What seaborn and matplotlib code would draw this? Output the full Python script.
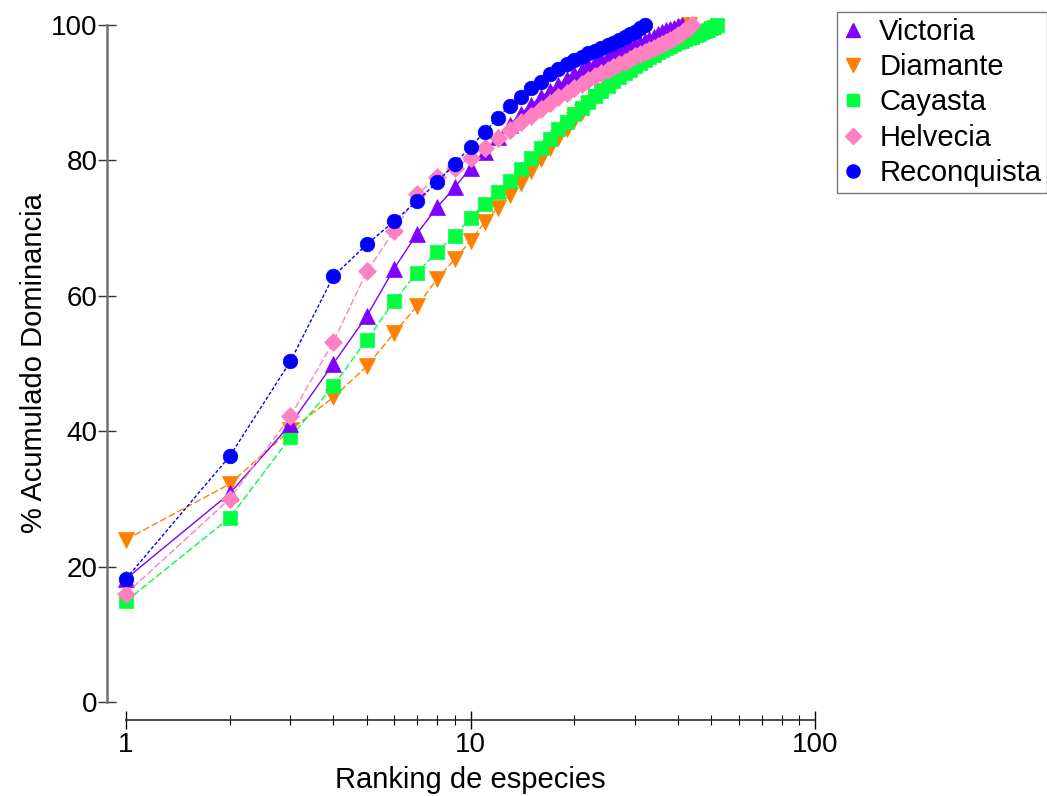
import numpy as np
import pandas as pd
import seaborn as sns
import matplotlib
matplotlib.use("Agg")
import matplotlib.pyplot as plt
from matplotlib.lines import Line2D
from matplotlib.ticker import LogLocator, NullFormatter, FixedLocator, FixedFormatter

# Cumulative % dominance by species rank (k-dominance curves)
victoria = [18.2, 30.8, 41.0, 50.0, 57.0, 64.0, 69.2, 73.1, 76.0, 78.9,
            81.3, 83.4, 85.3, 86.9, 88.2, 89.3, 90.3, 91.2, 92.0, 92.7,
            93.3, 93.9, 94.4, 94.9, 95.3, 95.7, 96.1, 96.5, 96.8, 97.1,
            97.4, 97.7, 98.0, 98.3, 98.6, 98.9, 99.2, 99.4, 99.6, 99.8, 100.0]
diamante = [24.0, 32.2, 40.2, 45.0, 49.6, 54.5, 58.5, 62.5, 65.4, 68.1,
            70.9, 73.0, 74.9, 76.7, 78.5, 80.2, 81.8, 83.3, 84.7, 86.0,
            87.2, 88.3, 89.3, 90.2, 91.0, 91.8, 92.5, 93.2, 93.8, 94.4,
            95.0, 95.5, 96.0, 96.5, 96.9, 97.3, 97.7, 98.1, 98.5, 98.9,
            99.3, 99.7, 100.0]
cayasta = [14.9, 27.2, 39.1, 46.7, 53.5, 59.2, 63.4, 66.5, 68.9, 71.5,
           73.6, 75.4, 77.0, 78.8, 80.4, 81.8, 83.2, 84.6, 85.7, 86.8,
           87.8, 88.7, 89.5, 90.3, 91.0, 91.7, 92.3, 92.9, 93.4, 93.9,
           94.4, 94.8, 95.2, 95.6, 96.0, 96.3, 96.6, 96.9, 97.2, 97.5,
           97.7, 97.9, 98.1, 98.3, 98.5, 98.7, 98.9, 99.1, 99.3, 99.5,
           99.7, 100.0]
helvecia = [16.0, 30.0, 42.2, 53.2, 63.6, 69.6, 75.0, 77.5, 78.9, 80.4,
            81.8, 83.3, 84.5, 85.6, 86.6, 87.6, 88.5, 89.3, 90.0, 90.7,
            91.3, 91.9, 92.4, 92.9, 93.4, 93.8, 94.2, 94.6, 95.0, 95.4,
            95.7, 96.0, 96.3, 96.6, 96.9, 97.2, 97.5, 97.8, 98.1, 98.5,
            98.8, 99.2, 99.6, 100.0]
reconquista = [18.2, 36.3, 50.3, 62.9, 67.6, 71.0, 74.0, 76.8, 79.5, 82.0,
               84.2, 86.3, 88.1, 89.4, 90.7, 91.6, 92.7, 93.5, 94.2, 94.8,
               95.3, 95.8, 96.2, 96.6, 97.0, 97.4, 97.8, 98.2, 98.6, 99.0,
               99.5, 100.0]

sites = ["Victoria", "Diamante", "Cayasta", "Helvecia", "Reconquista"]
series = [victoria, diamante, cayasta, helvecia, reconquista]
colors = {"Victoria": "#8000FF", "Diamante": "#FF8000", "Cayasta": "#00FF40",
          "Helvecia": "#FF80C0", "Reconquista": "#0000FF"}
markers = {"Victoria": "^", "Diamante": "v", "Cayasta": "s",
           "Helvecia": "D", "Reconquista": "o"}
msize = {"Victoria": 11.5, "Diamante": 11.5, "Cayasta": 10,
         "Helvecia": 9.5, "Reconquista": 10.5}
dashes = {"Victoria": (None, None), "Diamante": (5, 2), "Cayasta": (5, 2),
          "Helvecia": (5, 2), "Reconquista": (2.5, 1.5)}
zorders = {"Diamante": 3, "Cayasta": 4, "Victoria": 5, "Helvecia": 6, "Reconquista": 7}

df = pd.concat([pd.DataFrame({"Ranking": np.arange(1, len(v) + 1),
                              "Dominancia": v, "Sitio": s})
                for s, v in zip(sites, series)], ignore_index=True)

sns.set_theme(style="white")
plt.rcParams["font.family"] = ["Liberation Sans", "DejaVu Sans"]
plt.rcParams["text.color"] = "black"
plt.rcParams["axes.labelcolor"] = "black"
plt.rcParams["xtick.color"] = "black"
plt.rcParams["ytick.color"] = "black"

FS = 21
TFS = 20

fig = plt.figure(figsize=(10.47, 7.96), dpi=100)
ax = fig.add_axes([126 / 1047, 94 / 796, (815 - 126) / 1047, (702 - 25) / 796])

for s in sorted(sites, key=lambda k: zorders[k]):
    sub = df[df["Sitio"] == s]
    sns.lineplot(data=sub, x="Ranking", y="Dominancia", ax=ax,
                 color=colors[s], marker=markers[s], markersize=msize[s],
                 markeredgecolor=colors[s], markeredgewidth=0.5,
                 linewidth=1.0, zorder=zorders[s], clip_on=False,
                 legend=False)
    l = ax.lines[-1]
    if dashes[s][0] is not None:
        l.set_dashes(dashes[s])

ax.set_xscale("log")
ax.set_xlim(1, 100)
ax.set_ylim(0, 100)

for side in ("top", "right"):
    ax.spines[side].set_visible(False)
ax.spines["left"].set_position(("outward", 14))
ax.spines["bottom"].set_position(("outward", 13))
ax.spines["left"].set_bounds(0, 100)
ax.spines["bottom"].set_bounds(1, 100)
ax.spines["left"].set_color("#707070")
ax.spines["left"].set_linewidth(1.8)
ax.spines["bottom"].set_color("#303030")
ax.spines["bottom"].set_linewidth(1.2)

ax.xaxis.set_major_locator(FixedLocator([1, 10, 100]))
ax.xaxis.set_major_formatter(FixedFormatter(["1", "10", "100"]))
ax.xaxis.set_minor_locator(LogLocator(base=10, subs=np.arange(2, 10)))
ax.xaxis.set_minor_formatter(NullFormatter())
ax.set_yticks([0, 20, 40, 60, 80, 100])

ax.tick_params(axis="x", which="major", direction="inout", length=13, width=1.0,
               color="black", labelsize=TFS, pad=2, bottom=True)
ax.tick_params(axis="x", which="minor", direction="inout", length=7, width=0.8,
               color="black", bottom=True)
ax.tick_params(axis="y", which="major", direction="inout", length=13, width=1.0,
               color="#333333", labelsize=TFS, pad=0, left=True)

ax.set_xlabel("Ranking de especies", fontsize=FS, labelpad=6)
ax.set_ylabel("% Acumulado Dominancia", fontsize=FS, labelpad=2)
ax.grid(False)

handles = [Line2D([], [], linestyle="none", marker=markers[s], color=colors[s],
                  markersize=msize[s] * 0.9) for s in sites]
leg = fig.legend(handles, sites, loc="upper left",
                 bbox_to_anchor=(837 / 1047, 1 - 12 / 796),
                 frameon=True, fancybox=False, fontsize=FS,
                 handlelength=0.7, handletextpad=0.55, labelspacing=0.25,
                 borderpad=0.2, borderaxespad=0)
leg.get_frame().set_edgecolor("#555555")
leg.get_frame().set_linewidth(1.0)

fig.savefig("out.png", dpi=100)
